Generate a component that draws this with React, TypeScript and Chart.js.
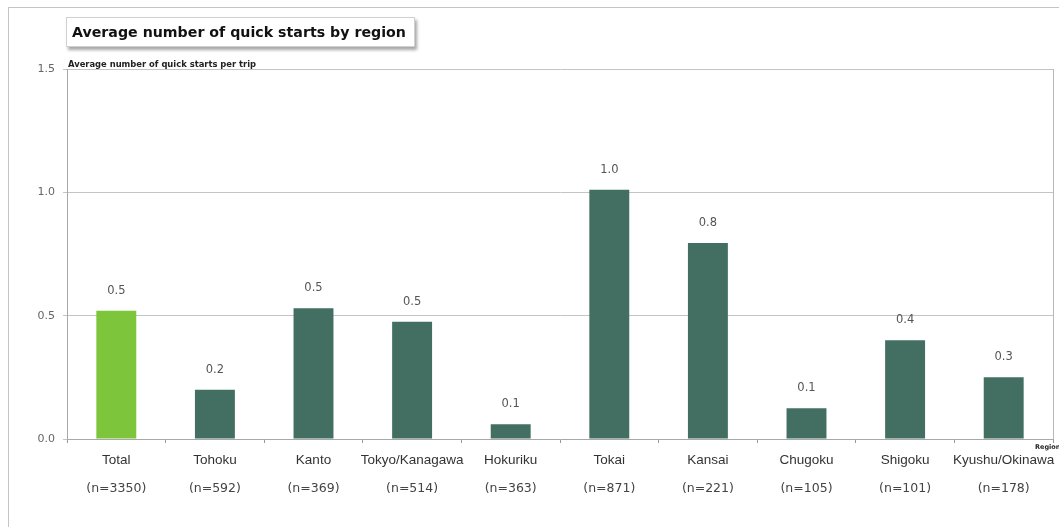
import React, { useEffect, useRef } from "react";
import { Chart, registerables } from "chart.js";

Chart.register(...registerables);

const regions = ["Total", "Tohoku", "Kanto", "Tokyo/Kanagawa", "Hokuriku", "Tokai", "Kansai", "Chugoku", "Shigoku", "Kyushu/Okinawa"];
const sampleSizes = ["(n=3350)", "(n=592)", "(n=369)", "(n=514)", "(n=363)", "(n=871)", "(n=221)", "(n=105)", "(n=101)", "(n=178)"];
const avgQuickStarts = [0.52, 0.2, 0.53, 0.475, 0.06, 1.01, 0.795, 0.125, 0.4, 0.25];
const valueLabels = ["0.5", "0.2", "0.5", "0.5", "0.1", "1.0", "0.8", "0.1", "0.4", "0.3"];
const yTicks = [0, 0.5, 1.0, 1.5];

const TOTAL_COLOR = "#7dc63b";
const REGION_COLOR = "#426f62";

const decorPlugin = {
  id: "decor",
  beforeDatasetsDraw(chart: any) {
    const { ctx, chartArea } = chart;
    ctx.save();
    ctx.strokeStyle = "#b8b8b8";
    ctx.lineWidth = 1;
    ctx.beginPath();
    ctx.moveTo(Math.round(chartArea.right) + 0.5, chartArea.top);
    ctx.lineTo(Math.round(chartArea.right) + 0.5, chartArea.bottom);
    ctx.stroke();
    ctx.restore();
  },
  afterDatasetsDraw(chart: any) {
    const { ctx, chartArea } = chart;
    const meta = chart.getDatasetMeta(0);
    ctx.save();
    ctx.fillStyle = "#555";
    ctx.font = "11.5px 'DejaVu Sans'";
    ctx.textAlign = "center";
    ctx.textBaseline = "middle";
    meta.data.forEach((bar: any, i: number) => {
      ctx.fillText(valueLabels[i], bar.x, bar.y - 20);
    });
    ctx.fillStyle = "#222";
    ctx.font = "bold 8.4px 'DejaVu Sans'";
    ctx.textAlign = "left";
    ctx.textBaseline = "alphabetic";
    ctx.fillText("Average number of quick starts per trip", chartArea.left + 1, chartArea.top - 2);
    ctx.font = "bold 6.5px 'DejaVu Sans'";
    ctx.fillText("Region", chartArea.right - 18, chartArea.bottom + 10);
    ctx.restore();
  },
};

export default function App() {
  const canvasRef = useRef<HTMLCanvasElement | null>(null);

  useEffect(() => {
    document.body.style.margin = "0";
    const canvas = canvasRef.current;
    if (!canvas) return;
    const noPad = (scale: any) => {
      scale.paddingLeft = 0;
      scale.paddingRight = 0;
    };
    const chart = new Chart(canvas, {
      type: "bar",
      data: {
        labels: regions,
        datasets: [
          {
            data: avgQuickStarts,
            backgroundColor: regions.map((_, i) => (i === 0 ? TOTAL_COLOR : REGION_COLOR)),
            borderWidth: 0,
            categoryPercentage: 1,
            barPercentage: 0.405,
            xAxisID: "x",
          },
        ],
      },
      options: {
        animation: false,
        responsive: false,
        maintainAspectRatio: false,
        layout: { padding: { left: 0, right: 6, top: 69, bottom: 0 } },
        plugins: { legend: { display: false }, tooltip: { enabled: false }, title: { display: false } },
        scales: {
          x: {
            type: "category",
            position: "bottom",
            labels: regions,
            offset: true,
            grid: { display: true, offset: true, drawOnChartArea: false, drawTicks: true, tickLength: 4, color: "#999" },
            border: { display: true, color: "#a8a8a8" },
            ticks: { color: "#333", font: { family: "'Liberation Sans', Arial", size: 13.5 }, padding: 9, maxRotation: 0, autoSkip: false },
            afterFit(scale: any) { scale.height = 36; noPad(scale); },
          },
          x2: {
            type: "category",
            position: "bottom",
            labels: sampleSizes,
            offset: true,
            grid: { display: false, drawTicks: false },
            border: { display: false },
            ticks: { color: "#444", font: { family: "'DejaVu Sans'", size: 12.5 }, padding: 6, maxRotation: 0, autoSkip: false },
            afterFit(scale: any) { scale.height = 52; noPad(scale); },
          },
          y: {
            type: "linear",
            min: 0,
            max: 1.5,
            afterBuildTicks(scale: any) { scale.ticks = yTicks.map((v) => ({ value: v })); },
            grid: { color: "#c4c4c4", drawTicks: true, tickLength: 4 },
            border: { display: true, color: "#a8a8a8" },
            ticks: { color: "#666", font: { family: "'DejaVu Sans'", size: 11 }, padding: 8, callback: (v: any) => Number(v).toFixed(1) },
            afterFit(scale: any) { scale.width = 67; },
          },
        },
      },
      plugins: [decorPlugin],
    } as any);
    return () => chart.destroy();
  }, []);

  return (
    <div style={{ position: "relative", width: 1059, height: 527, overflow: "hidden", background: "#fff" }}>
      <div style={{ position: "absolute", left: 8, top: 7, width: 1100, height: 600, borderTop: "1px solid #c4c4c4", borderLeft: "1px solid #c4c4c4" }} />
      <canvas ref={canvasRef} width={1059} height={527} style={{ position: "absolute", left: 0, top: 0, width: 1059, height: 527 }} />
      <div
        style={{
          position: "absolute",
          left: 66,
          top: 17,
          height: 28,
          padding: "0 8px 0 5px",
          background: "#fff",
          border: "1px solid #d0d0d0",
          boxShadow: "2px 3px 3px rgba(0,0,0,0.35)",
          fontFamily: "'DejaVu Sans', Verdana, sans-serif",
          fontWeight: "bold",
          fontSize: 14.2,
          lineHeight: "28px",
          color: "#111",
          whiteSpace: "nowrap",
        }}
      >
        Average number of quick starts by region
      </div>
    </div>
  );
}
